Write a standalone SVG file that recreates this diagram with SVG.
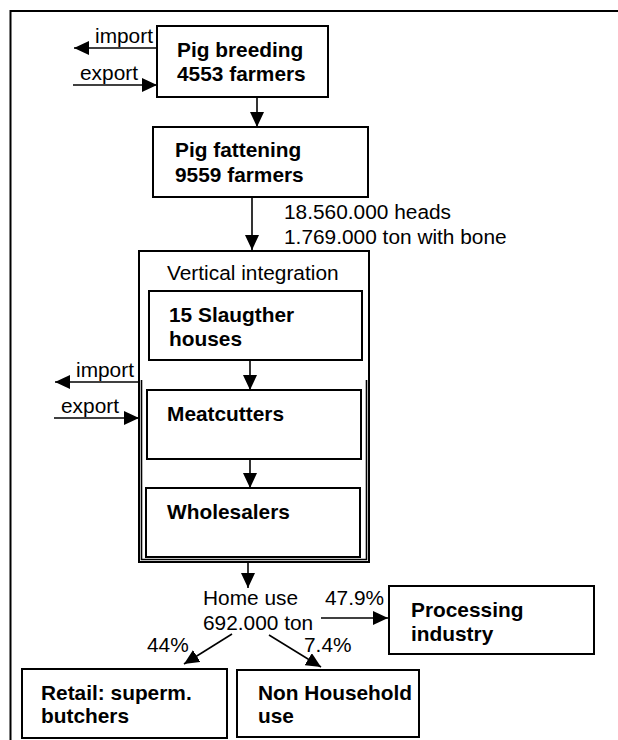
<svg xmlns="http://www.w3.org/2000/svg" width="618" height="740" viewBox="0 0 618 740">
  <defs>
    <marker id="ah" viewBox="0 0 15 14" refX="15" refY="7" markerWidth="15" markerHeight="14" orient="auto" markerUnits="userSpaceOnUse">
      <path d="M0,0 L15,7 L0,14 z" fill="#000"/>
    </marker>
    <style>
      .box { fill: #fff; stroke: #000; stroke-width: 2; }
      .frame { fill: none; stroke: #000; stroke-width: 2; }
      .arrow { fill: none; stroke: #000; stroke-width: 1.6; marker-end: url(#ah); }
      .line { fill: none; stroke: #000; stroke-width: 1.6; }
      text { font-family: "Liberation Sans", Arial, sans-serif; font-size: 19.5px; fill: #000; }
      .b { font-weight: bold; }
    </style>
  </defs>
  <rect width="618" height="740" fill="#fff"/>

  <!-- page frame -->
  <path class="frame" d="M10.5,740 V11 H618"/>

  <g id="pig-breeding">
    <rect class="box" x="157" y="26" width="171" height="71"/>
    <text class="b" transform="matrix(1.07 0 0 1 177 57)">Pig breeding</text>
    <text class="b" transform="matrix(1.07 0 0 1 177 81)">4553 farmers</text>
  </g>

  <g id="pig-fattening">
    <rect class="box" x="153" y="127" width="215" height="70"/>
    <text class="b" transform="matrix(1.07 0 0 1 175 157)">Pig fattening</text>
    <text class="b" transform="matrix(1.07 0 0 1 175 182)">9559 farmers</text>
  </g>

  <g id="vertical-integration">
    <rect class="box" x="139" y="251" width="230" height="311"/>
    <path class="line" d="M141.5,380 V559.5 H366.5 V380" stroke-width="1.2"/>
    <text transform="matrix(1.07 0 0 1 167 280)">Vertical integration</text>
  </g>

  <g id="slaughter-houses">
    <rect class="box" x="149" y="291" width="213" height="69"/>
    <text class="b" transform="matrix(1.07 0 0 1 169 322)">15 Slaugther</text>
    <text class="b" transform="matrix(1.07 0 0 1 169 346)">houses</text>
  </g>

  <g id="meatcutters">
    <rect class="box" x="147" y="390" width="214" height="69"/>
    <text class="b" transform="matrix(1.07 0 0 1 167 421)">Meatcutters</text>
  </g>

  <g id="wholesalers">
    <rect class="box" x="146" y="488" width="214" height="69"/>
    <text class="b" transform="matrix(1.07 0 0 1 167 519)">Wholesalers</text>
  </g>

  <g id="home-use">
    <text transform="matrix(1.07 0 0 1 203 605)">Home use</text>
    <text transform="matrix(1.07 0 0 1 203 630)">692.000 ton</text>
  </g>

  <g id="processing-industry">
    <rect class="box" x="389" y="586" width="205" height="68"/>
    <text class="b" transform="matrix(1.07 0 0 1 411 617)">Processing</text>
    <text class="b" transform="matrix(1.07 0 0 1 411 641)">industry</text>
  </g>

  <g id="retail">
    <rect class="box" x="22" y="669" width="205" height="69"/>
    <text class="b" transform="matrix(1.07 0 0 1 41 700)">Retail: superm.</text>
    <text class="b" transform="matrix(1.07 0 0 1 41 723)">butchers</text>
  </g>

  <g id="non-household">
    <rect class="box" x="237" y="670" width="182" height="67"/>
    <text class="b" transform="matrix(1.07 0 0 1 258 700)">Non Household</text>
    <text class="b" transform="matrix(1.07 0 0 1 258 723)">use</text>
  </g>

  <g id="connectors">
    <path class="arrow" d="M157,48 H74"/>
    <path class="arrow" d="M73,85 H157"/>
    <path class="arrow" d="M257,97 V127"/>
    <path class="arrow" d="M252,197 V250"/>
    <path class="arrow" d="M250,360 V390"/>
    <path class="arrow" d="M250,459 V488"/>
    <path class="arrow" d="M139,382 H55"/>
    <path class="arrow" d="M54,418 H139"/>
    <path class="arrow" d="M248,562 V588"/>
    <path class="arrow" d="M321,618 H388"/>
    <path class="arrow" d="M232,634 L184,664"/>
    <path class="arrow" d="M269,635 L321,667"/>

    <text transform="matrix(1.07 0 0 1 95 43)">import</text>
    <text transform="matrix(1.07 0 0 1 80 80)">export</text>
    <text transform="matrix(1.07 0 0 1 284 219)">18.560.000 heads</text>
    <text transform="matrix(1.07 0 0 1 284 244)">1.769.000 ton with bone</text>
    <text transform="matrix(1.07 0 0 1 76 377)">import</text>
    <text transform="matrix(1.07 0 0 1 61 413)">export</text>
    <text transform="matrix(1.07 0 0 1 325 605)">47.9%</text>
    <text transform="matrix(1.07 0 0 1 147 652)">44%</text>
    <text transform="matrix(1.07 0 0 1 304 652)">7.4%</text>
  </g>
</svg>
